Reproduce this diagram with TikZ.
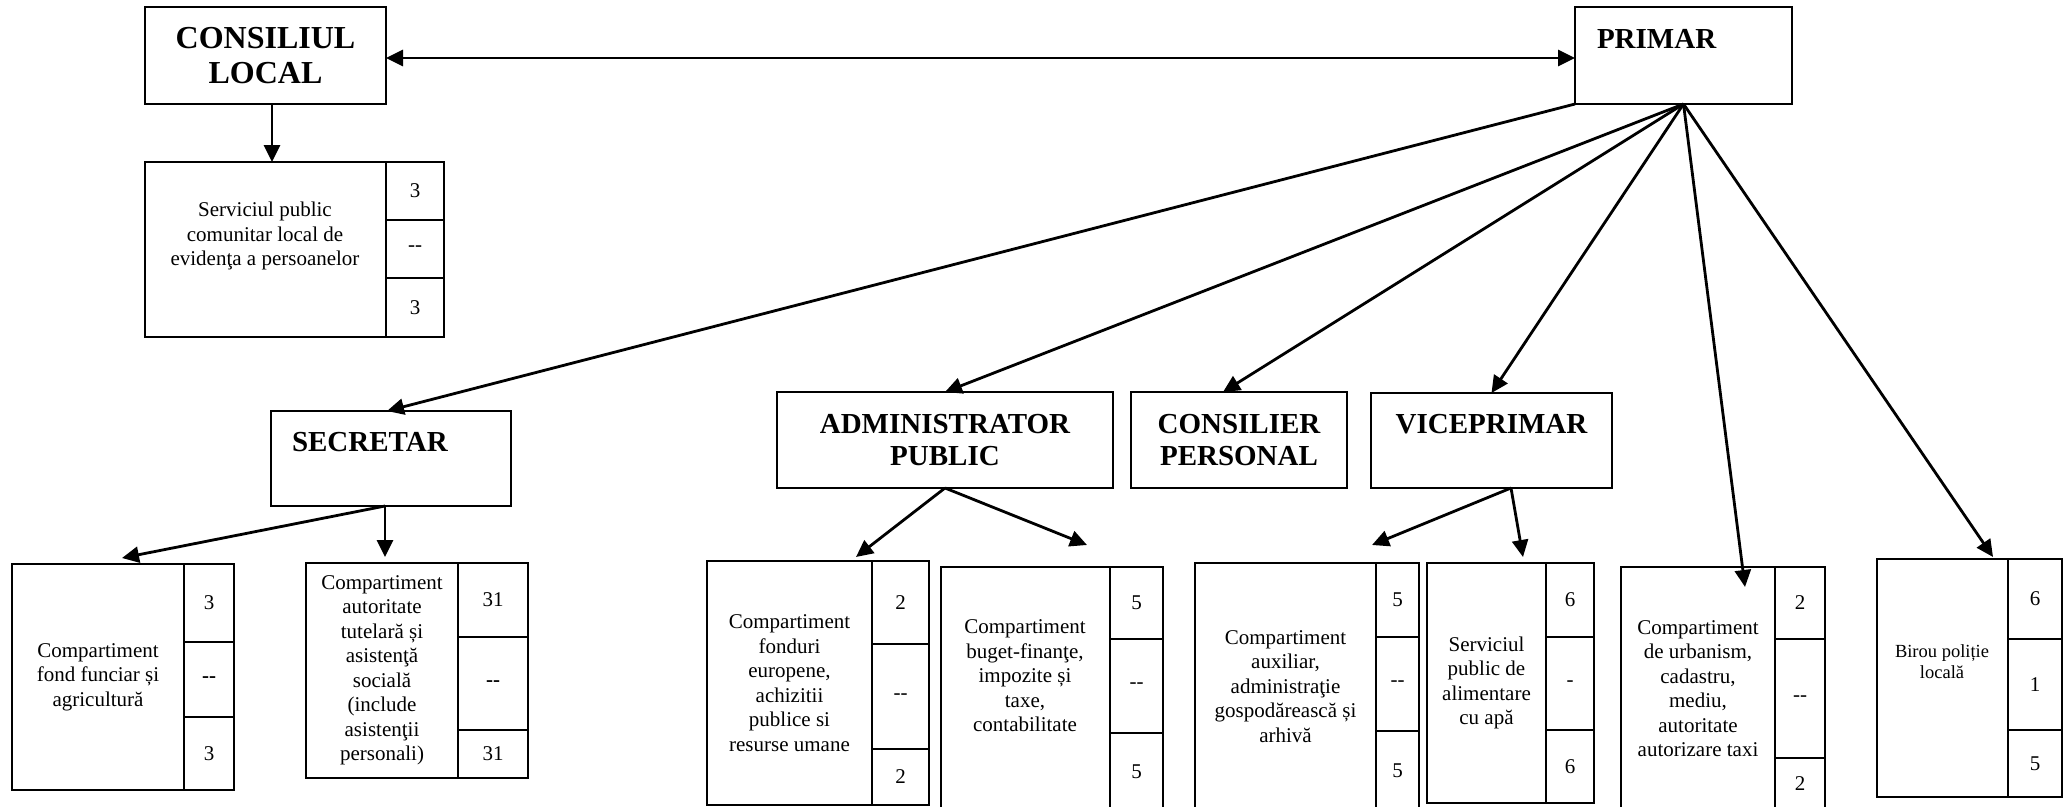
\documentclass[tikz,border=0pt]{standalone}
\usepackage{fontspec}
\setmainfont{Liberation Serif}
\usetikzlibrary{arrows.meta}
\newcommand\dsh{-\kern0pt-}
\tikzset{
  box/.style = {draw=black, line width=2.1pt, inner sep=0pt, outer sep=0pt,
    align=center},
  hdr/.style = {box, font=\bfseries\fontsize{29}{32.5}\selectfont},
  dtx/.style = {align=center, inner sep=0pt,
    font=\fontsize{21}{24.5}\selectfont},
  dep/.style = {box, dtx},
  nr/.style = {box, font=\fontsize{21}{24}\selectfont},
  lnk/.style = {->, line width=2.8pt}
}
\begin{document}
\begin{tikzpicture}[x=1pt, y=-1pt, >={Triangle[length=17pt,width=16pt]}]
\useasboundingbox (0,0) rectangle (2069,806);
\node [hdr, font=\bfseries\fontsize{32}{35}\selectfont, minimum width=241,
  minimum height=97] (cl) at (265.5,55.5) {CONSILIUL\\LOCAL};
\node [hdr, minimum width=217, minimum height=97, text width=173,
  align=left] (prim) at (1683.5,55.5) {PRIMAR\\\mbox{}};
\node [hdr, minimum width=240, minimum height=95, text width=198,
  align=left] (sec) at (391,458.5) {SECRETAR\\\mbox{}};
\node [hdr, minimum width=336, minimum height=96] (adm) at (945,440)
  {ADMINISTRATOR\\PUBLIC};
\node [hdr, minimum width=216, minimum height=96] (cons) at (1239,440)
  {CONSILIER\\PERSONAL};
\node [hdr, minimum width=241, minimum height=95] (vice) at (1491.5,440.5)
  {VICEPRIMAR\\\mbox{}};

\node [dep, minimum width=241, minimum height=175] (svc) at (265.5,249.5) {};
\node [dtx] (svctxt) at (265,236)
  {Serviciul public\\comunitar local de\\evidenţa a persoanelor};
\node [dep, minimum width=172, minimum height=226] (fond) at (98,677)
  {Compartiment\\fond funciar și\\agricultură};
\node [dep, minimum width=152, minimum height=215] (tut) at (382,670.5)
  {Compartiment\\autoritate\\tutelară și\\asistenţă\\socială\\(include\\asistenţii\\personali)};
\node [dep, minimum width=165, minimum height=244] (fon) at (789.5,683)
  {Compartiment\\fonduri\\europene,\\achizitii\\publice si\\resurse umane};
\node [dep, minimum width=169, minimum height=243] (bug) at (1025.5,688.5) {};
\node [dtx] (bugtxt) at (1025,676)
  {Compartiment\\buget-finanţe,\\impozite și\\taxe,\\contabilitate};
\node [dep, minimum width=181, minimum height=247] (aux) at (1285.5,686.5)
  {Compartiment\\auxiliar,\\administraţie\\gospodărească și\\arhivă};
\node [dep, minimum width=119, minimum height=240] (apa) at (1486.5,683)
  {Serviciul\\public de\\alimentare\\cu apă};
\node [dep, minimum width=154, minimum height=243] (urb) at (1698,688.5)
  {Compartiment\\de urbanism,\\cadastru,\\mediu,\\autoritate\\autorizare taxi};
\node [dep, minimum width=131, minimum height=238] (pol) at (1942.5,678) {};
\node [dtx, font=\fontsize{18.5}{21}\selectfont] (poltxt) at (1942,662)
  {Birou poliție\\locală};

\foreach \nm/\xa/\xb/\ya/\yb/\yc/\yd/\ta/\tb/\tc in {
  svc/386/444/162/220/278/337/3/{\dsh}/3,
  fond/184/234/564/642/717/790/3/{\bfseries\dsh}/3,
  tut/458/528/563/637/730/778/31/{\bfseries\dsh}/31,
  fon/872/929/561/644/749/805/2/{\dsh}/2,
  bug/1110/1163/567/639/733/810/5/{\dsh}/5,
  aux/1376/1419/563/637/731/810/5/{\dsh}/5,
  apa/1546/1594/563/637/730/803/6/-/6,
  urb/1775/1825/567/639/758/810/2/{\dsh}/2,
  pol/2008/2062/559/639/730/797/6/1/5}{
  \node [nr, minimum width=\xb-\xa, minimum height=\yb-\ya] (\nm-a)
    at ({(\xa+\xb)/2},{(\ya+\yb)/2}) {\ta};
  \node [nr, minimum width=\xb-\xa, minimum height=\yc-\yb] (\nm-b)
    at ({(\xa+\xb)/2},{(\yb+\yc)/2}) {\tb};
  \node [nr, minimum width=\xb-\xa, minimum height=\yd-\yc] (\nm-c)
    at ({(\xa+\xb)/2},{(\yc+\yd)/2}) {\tc};
}

\coordinate (fondtip) at (122,558);
\coordinate (tuttip) at (385,557);
\coordinate (fontip) at (856,557);
\coordinate (bugtip) at (1087,545);
\coordinate (auxtip) at (1372,545);
\coordinate (apatip) at (1523,557);
\coordinate (urbtip) at (1745,587);
\coordinate (poltip) at (1993,557);

\draw [<->, line width=2.8pt] ([yshift=-2.5pt]cl.east) -- ([yshift=-2.5pt]prim.west);
\draw [lnk] ([xshift=6.5pt]cl.south) -- ([xshift=6.5pt]svc.north);
\draw [lnk] (prim.south west) -- ([xshift=-4pt]sec.north);
\draw [lnk] (prim.south) -- (adm.north);
\draw [lnk] (prim.south) -- ([xshift=-16pt]cons.north);
\draw [lnk] (prim.south) -- (vice.north);
\draw [lnk] (prim.south) -- (urbtip);
\draw [lnk] (prim.south) -- (poltip);
\draw [lnk] ([xshift=-6pt]sec.south) -- (fondtip);
\draw [lnk] ([xshift=-6pt]sec.south) -- (tuttip);
\draw [lnk] (adm.south) -- (fontip);
\draw [lnk] (adm.south) -- (bugtip);
\draw [lnk] ([xshift=19.5pt]vice.south) -- (auxtip);
\draw [lnk] ([xshift=19.5pt]vice.south) -- (apatip);
\end{tikzpicture}
\end{document}
